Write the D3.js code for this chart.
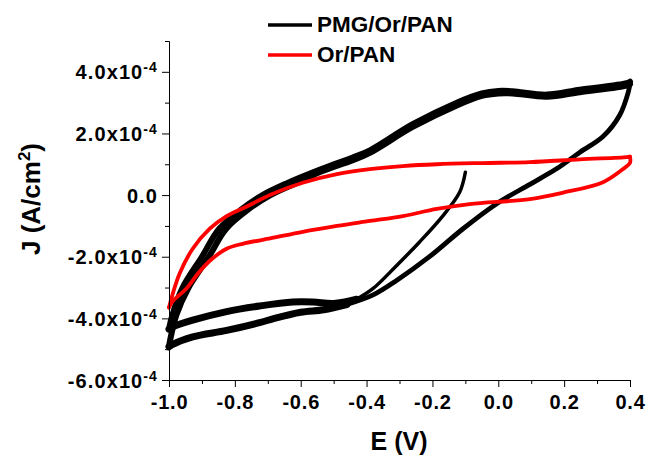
<!DOCTYPE html>
<html>
<head>
<meta charset="utf-8">
<script src="https://cdn.jsdelivr.net/npm/d3@7"></script>
<style>
  html, body { margin: 0; padding: 0; background: #fff; }
  svg { display: block; font-family: "Liberation Sans", Arial, sans-serif; font-weight: bold; }
</style>
</head>
<body>
<svg id="chart" width="647" height="455"></svg>
<script>
// ---------------- DATA (E in V, J in A/cm^2) ----------------
const seriesNames = ["PMG/Or/PAN", "Or/PAN"];

// PMG/Or/PAN : initial cathodic sweep (thin) starting at -0.1 V
const blackInitialE = [-0.100, -0.117, -0.169, -0.239, -0.310, -0.380, -0.430];
const blackInitialJ = [0.74e-4, 0.10e-4, -0.68e-4, -1.52e-4, -2.30e-4, -3.03e-4, -3.38e-4];

// PMG/Or/PAN : first return to -1.0 V (upper lower band)
const blackBandAE = [-0.430, -0.500, -0.563, -0.624, -0.725, -0.825, -0.928, -0.990, -1.000];
const blackBandAJ = [-3.38e-4, -3.52e-4, -3.47e-4, -3.47e-4, -3.60e-4, -3.78e-4, -4.06e-4, -4.28e-4, -4.35e-4];

// PMG/Or/PAN : anodic sweeps -1.0 -> 0.4 V (two cycles)
const blackAnodic1E = [-1.000, -0.990, -0.960, -0.900, -0.848, -0.778, -0.716, -0.643, -0.543, -0.442, -0.390, -0.260, -0.126, -0.050, 0.000, 0.044, 0.147, 0.248, 0.390, 0.400];
const blackAnodic1J = [-4.35e-4, -3.90e-4, -3.03e-4, -2.00e-4, -1.10e-4, -0.45e-4, 0.00e-4, 0.38e-4, 0.82e-4, 1.22e-4, 1.45e-4, 2.30e-4, 3.00e-4, 3.30e-4, 3.38e-4, 3.37e-4, 3.26e-4, 3.42e-4, 3.63e-4, 3.68e-4];
const blackAnodic2E = [-1.000, -0.978, -0.942, -0.879, -0.827, -0.757, -0.692, -0.615, -0.543, -0.442, -0.390, -0.260, -0.126, -0.050, 0.000, 0.044, 0.147, 0.248, 0.390, 0.400];
const blackAnodic2J = [-4.90e-4, -3.90e-4, -3.03e-4, -2.00e-4, -1.10e-4, -0.45e-4, 0.00e-4, 0.38e-4, 0.74e-4, 1.13e-4, 1.37e-4, 2.21e-4, 2.91e-4, 3.22e-4, 3.30e-4, 3.30e-4, 3.19e-4, 3.34e-4, 3.55e-4, 3.60e-4];

// PMG/Or/PAN : cathodic sweep 0.4 -> -0.46 V
const blackCathodicE = [0.400, 0.395, 0.369, 0.318, 0.248, 0.178, 0.096, -0.005, -0.108, -0.209, -0.310, -0.380, -0.460];
const blackCathodicJ = [3.62e-4, 3.35e-4, 2.60e-4, 1.90e-4, 1.39e-4, 0.86e-4, 0.35e-4, -0.28e-4, -1.10e-4, -2.00e-4, -2.78e-4, -3.24e-4, -3.55e-4];

// PMG/Or/PAN : cathodic sweep continued to -1.0 V (lower band)
const blackBandBE = [-0.460, -0.530, -0.600, -0.680, -0.725, -0.825, -0.928, -0.990, -1.000];
const blackBandBJ = [-3.55e-4, -3.72e-4, -3.80e-4, -4.00e-4, -4.14e-4, -4.39e-4, -4.60e-4, -4.85e-4, -4.92e-4];

// Or/PAN : anodic sweep -1.0 -> 0.4 V
const redAnodicE = [-1.000, -0.990, -0.968, -0.928, -0.877, -0.825, -0.764, -0.690, -0.594, -0.490, -0.390, -0.290, -0.187, -0.050, 0.096, 0.248, 0.390, 0.400];
const redAnodicJ = [-3.65e-4, -3.25e-4, -2.55e-4, -1.74e-4, -1.10e-4, -0.68e-4, -0.37e-4, 0.02e-4, 0.40e-4, 0.68e-4, 0.84e-4, 0.94e-4, 1.00e-4, 1.04e-4, 1.07e-4, 1.16e-4, 1.23e-4, 1.25e-4];

// Or/PAN : cathodic sweep 0.4 -> -1.0 V
const redCathodicE = [0.400, 0.400, 0.378, 0.318, 0.197, 0.096, -0.087, -0.187, -0.290, -0.390, -0.490, -0.594, -0.690, -0.776, -0.825, -0.868, -0.907, -0.947, -0.989, -1.000];
const redCathodicJ = [1.25e-4, 1.05e-4, 0.84e-4, 0.42e-4, 0.08e-4, -0.13e-4, -0.29e-4, -0.45e-4, -0.68e-4, -0.84e-4, -1.00e-4, -1.19e-4, -1.40e-4, -1.58e-4, -1.74e-4, -2.06e-4, -2.48e-4, -3.03e-4, -3.45e-4, -3.65e-4];

// Axis ticks
const xMajorTicks = [-1.0, -0.8, -0.6, -0.4, -0.2, 0.0, 0.2, 0.4];
const xTickLabels = ["-1.0", "-0.8", "-0.6", "-0.4", "-0.2", "0.0", "0.2", "0.4"];
const xMinorTicks = [-0.9, -0.7, -0.5, -0.3, -0.1, 0.1, 0.3];
const yMajorTicks = [-6e-4, -4e-4, -2e-4, 0, 2e-4, 4e-4];
const yTickMantissa = ["-6.0x10", "-4.0x10", "-2.0x10", "0.0", "2.0x10", "4.0x10"];
const yTickExponent = ["-4", "-4", "-4", "", "-4", "-4"];
const yMinorTicks = [-5e-4, -3e-4, -1e-4, 1e-4, 3e-4, 5e-4];

// ---------------- CHART ----------------
const svg = d3.select("#chart");
const x = d3.scaleLinear().domain([-1.0, 0.4]).range([169, 630]);
const y = d3.scaleLinear().domain([-6e-4, 5e-4]).range([380, 41]);

const zip = (E, J) => E.map((e, i) => [e, J[i]]);
const line = d3.line().x(d => x(d[0])).y(d => y(d[1])).curve(d3.curveCatmullRom.alpha(0.5));

const curves = [
  { data: zip(blackBandBE, blackBandBJ), color: "#000", w: 7 },
  { data: zip(blackBandAE, blackBandAJ), color: "#000", w: 7 },
  { data: zip(blackInitialE, blackInitialJ), color: "#000", w: 3.5 },
  { data: zip(blackAnodic1E, blackAnodic1J), color: "#000", w: 6 },
  { data: zip(blackAnodic2E, blackAnodic2J), color: "#000", w: 6 },
  { data: zip(blackCathodicE, blackCathodicJ), color: "#000", w: 4.8 },
  { data: zip(redAnodicE, redAnodicJ), color: "#ff0000", w: 3.8 },
  { data: zip(redCathodicE, redCathodicJ), color: "#ff0000", w: 3.8 }
];
svg.append("g").selectAll("path").data(curves).join("path")
  .attr("d", d => line(d.data))
  .attr("fill", "none")
  .attr("stroke", d => d.color)
  .attr("stroke-width", d => d.w)
  .attr("stroke-linejoin", "round")
  .attr("stroke-linecap", "round");

// X axis
const gx = svg.append("g").attr("transform", "translate(0,380)");
gx.call(d3.axisBottom(x).tickValues(xMinorTicks).tickSize(4).tickSizeOuter(0).tickFormat(""));
const gx2 = svg.append("g").attr("transform", "translate(0,380)");
gx2.call(d3.axisBottom(x).tickValues(xMajorTicks).tickSize(7).tickSizeOuter(0)
  .tickFormat((d, i) => xTickLabels[i]));
gx2.selectAll(".tick text")
  .attr("y", 15).attr("dy", "0.71em")
  .attr("font-size", 20).attr("font-weight", "bold")
  .attr("letter-spacing", "0.8px")
  .attr("font-family", "'Liberation Sans', Arial, sans-serif").attr("fill", "#000");
[gx, gx2].forEach(g => { g.selectAll("path, line").attr("stroke", "#000").attr("stroke-width", 1); });

// Y axis
const gy = svg.append("g").attr("transform", "translate(169,0)");
gy.call(d3.axisLeft(y).tickValues(yMinorTicks).tickSize(4).tickSizeOuter(0).tickFormat(""));
const gy2 = svg.append("g").attr("transform", "translate(169,0)");
gy2.call(d3.axisLeft(y).tickValues(yMajorTicks).tickSize(7).tickSizeOuter(0).tickFormat(""));
gy2.selectAll(".tick text").each(function(d, i) {
  const t = d3.select(this);
  t.text(null)
    .attr("x", -11).attr("dy", null).attr("y", 7)
    .attr("text-anchor", "end")
    .attr("font-size", 20).attr("font-weight", "bold")
    .attr("letter-spacing", "1.1px")
    .attr("font-family", "'Liberation Sans', Arial, sans-serif").attr("fill", "#000");
  t.append("tspan").text(yTickMantissa[i]);
  if (yTickExponent[i]) {
    t.append("tspan").attr("font-size", 14).attr("dy", -7).text(yTickExponent[i]);
  }
});
[gy, gy2].forEach(g => { g.selectAll("path, line").attr("stroke", "#000").attr("stroke-width", 1); });

// Axis titles
svg.append("text")
  .attr("x", 399).attr("y", 450).attr("text-anchor", "middle")
  .attr("font-size", 25).attr("fill", "#000").text("E (V)");

const yt = svg.append("text")
  .attr("transform", "translate(40,199) rotate(-90)")
  .attr("text-anchor", "middle").attr("font-size", 26).attr("fill", "#000");
yt.append("tspan").text("J (A/cm");
yt.append("tspan").attr("font-size", 17).attr("dy", -10).text("2");
yt.append("tspan").attr("dy", 10).text(")");

// Legend
const legendColors = ["#000", "#ff0000"];
const lg = svg.append("g").selectAll("g").data(seriesNames).join("g")
  .attr("transform", (d, i) => `translate(0,${25 + i * 30})`);
lg.append("line").attr("x1", 268).attr("x2", 312).attr("y1", 0).attr("y2", 0)
  .attr("stroke", (d, i) => legendColors[i]).attr("stroke-width", 3.5);
lg.append("text").attr("x", 317).attr("y", 6.5)
  .attr("font-size", 22.5).attr("fill", "#000").text(d => d);
</script>
</body>
</html>
